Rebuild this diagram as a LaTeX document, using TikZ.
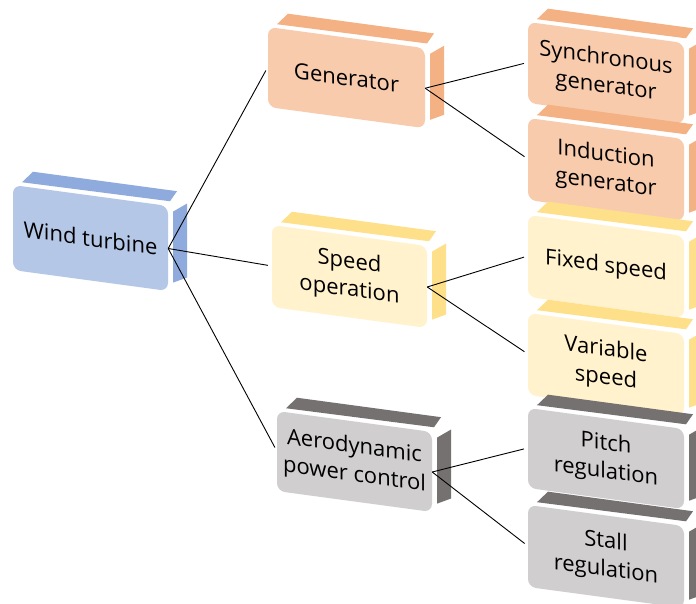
\documentclass[tikz,border=0pt]{standalone}
\usepackage{fontspec}
\setmainfont{Open Sans}
\definecolor{bluef}{HTML}{B4C7E7}
\definecolor{blues}{HTML}{8FAADC}
\definecolor{orf}{HTML}{F8CBAD}
\definecolor{ors}{HTML}{F4B183}
\definecolor{yef}{HTML}{FFF2CC}
\definecolor{yes}{HTML}{FFE08A}
\definecolor{grf}{HTML}{D0CECE}
\definecolor{grs}{HTML}{767171}
\tikzset{
  frontface/.style={rounded corners=8pt, inner sep=2pt, align=center, text=black,
    font=\fontsize{22}{28}\selectfont},
  conn/.style={draw=black, line width=0.9pt, shorten >=4pt}
}
% #1 name, #2 cx, #3 cy (pixels, y down), #4 width, #5 height, #6 front colour, #7 side colour, #8 text
\newcommand{\cubebox}[8]{%
  \begin{scope}[shift={(#2,-#3)}, yslant=-0.135, transform shape]
    \fill[#7] (-#4/2+9,#5/2+4) -- (#4/2+2,#5/2+5) -- (#4/2+9,#5/2+16) -- (-#4/2+20,#5/2+16) -- cycle;
    \fill[#7] (#4/2+5,-#5/2+9) -- (#4/2+5,#5/2-5) -- (#4/2+19,#5/2+5) -- (#4/2+19,-#5/2+16) -- cycle;
    \node[frontface, fill=#6, minimum width=#4, minimum height=#5] (#1) at (0,0) {#8};
  \end{scope}}
\begin{document}
\begin{tikzpicture}[x=1pt,y=1pt]
  \useasboundingbox (0,0) rectangle (696,-603);
  \clip (0,0) rectangle (696,-603);
  \fill[white] (0,0) rectangle (696,-603);
  \cubebox{wt}{90.5}{238}{155}{85}{bluef}{blues}{Wind turbine}
  \cubebox{gen}{346.5}{77.6}{157}{80}{orf}{ors}{Generator}
  \cubebox{spd}{349.5}{276.5}{155}{82}{yef}{yes}{Speed\\operation}
  \cubebox{aero}{354.5}{461.5}{155}{80}{grf}{grs}{Aerodynamic\\power control}
  \cubebox{syn}{606}{73}{156}{81}{orf}{ors}{Synchronous\\generator}
  \cubebox{ind}{606}{169.5}{156}{82}{orf}{ors}{Induction\\generator}
  \cubebox{fix}{606}{266.5}{156}{82}{yef}{yes}{Fixed speed}
  \cubebox{var}{606}{364.5}{156}{82}{yef}{yes}{Variable\\speed}
  \cubebox{pit}{606}{458.5}{156}{80}{grf}{grs}{Pitch\\regulation}
  \cubebox{sta}{606}{556.5}{156}{82}{grf}{grs}{Stall\\regulation}
  \draw[conn] (wt.east) -- (gen.west);
  \draw[conn] (wt.east) -- (spd.west);
  \draw[conn] (wt.east) -- (aero.west);
  \draw[conn] (gen.east) -- (syn.west);
  \draw[conn] (gen.east) -- (ind.west);
  \draw[conn] (spd.east) -- (fix.west);
  \draw[conn] (spd.east) -- (var.west);
  \draw[conn] (aero.east) -- (pit.west);
  \draw[conn] (aero.east) -- (sta.west);
\end{tikzpicture}
\end{document}
